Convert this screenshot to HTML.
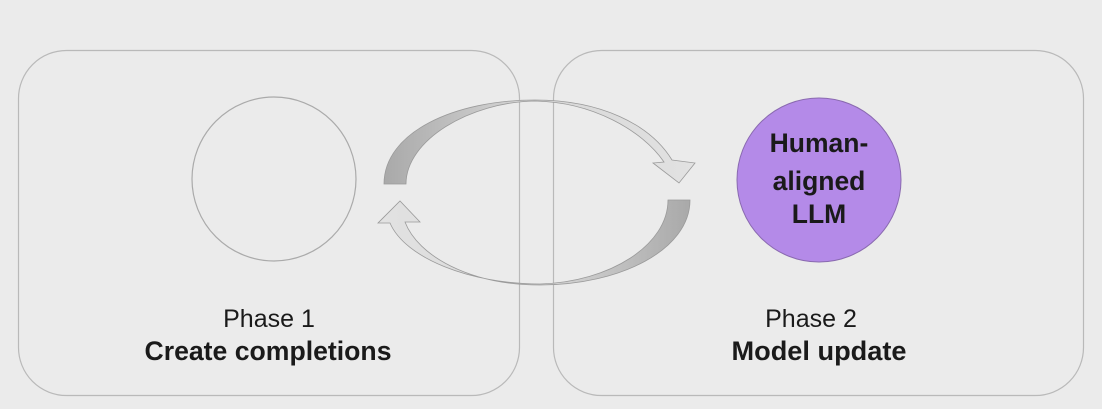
<!DOCTYPE html>
<html><head><style>
html,body{margin:0;padding:0;background:#ebebeb;}
</style></head><body>
<svg width="1102" height="404" viewBox="0 0 1102 404" xmlns="http://www.w3.org/2000/svg">
<defs>
<linearGradient id="g1" x1="384" y1="0" x2="695" y2="0" gradientUnits="userSpaceOnUse">
<stop offset="0" stop-color="#a9a9a9"/><stop offset="0.45" stop-color="#d6d6d6"/><stop offset="1" stop-color="#e2e2e2"/>
</linearGradient>
<linearGradient id="g2" x1="690" y1="0" x2="378" y2="0" gradientUnits="userSpaceOnUse">
<stop offset="0" stop-color="#a9a9a9"/><stop offset="0.45" stop-color="#d6d6d6"/><stop offset="1" stop-color="#e2e2e2"/>
</linearGradient>
</defs>
<rect x="0" y="0" width="1102" height="404" fill="#ebebeb"/>
<rect x="18.5" y="50.5" width="501" height="345" rx="48" fill="none" stroke="#b9b9b9" stroke-width="1.2"/>
<rect x="553.5" y="50.5" width="530" height="345" rx="48" fill="none" stroke="#b9b9b9" stroke-width="1.2"/>
<circle cx="274" cy="179" r="82" fill="none" stroke="#aaaaaa" stroke-width="1.2"/>
<circle cx="819" cy="180" r="82" fill="#b48ae8" stroke="#8a6ab0" stroke-width="1"/>
<path d="M384,184 C384,132 455,100 535,100 C600,100 650,124 672,160 L695,163 L679,183 L653,163 L664,162 C642,130 592,102 535,101 C470,102 406,140 406,184 Z" fill="url(#g1)" stroke="#9a9a9a" stroke-width="0.8"/>
<path d="M690,200 C690,250 620,285 540,285 C470,285 418,256 405,222 L420,222 L400,201 L378,223 L390,223 C405,258 470,284 540,284 C610,282 668,245 668,200 Z" fill="url(#g2)" stroke="#9a9a9a" stroke-width="0.8"/>
<g font-family="Liberation Sans, sans-serif" text-anchor="middle" fill="#1a1a1a">
<text x="269" y="327" font-size="25" font-weight="300">Phase 1</text>
<text x="268" y="360" font-size="26.5" font-weight="bold" textLength="247" lengthAdjust="spacingAndGlyphs">Create completions</text>
<text x="811" y="327" font-size="25" font-weight="300">Phase 2</text>
<text x="819" y="360" font-size="26.5" font-weight="bold" textLength="175" lengthAdjust="spacingAndGlyphs">Model update</text>
<text x="819" y="152" font-size="26.5" font-weight="bold">Human-</text>
<text x="819" y="190" font-size="26.5" font-weight="bold">aligned</text>
<text x="819" y="223" font-size="26.5" font-weight="bold">LLM</text>
</g>
</svg>
</body></html>
